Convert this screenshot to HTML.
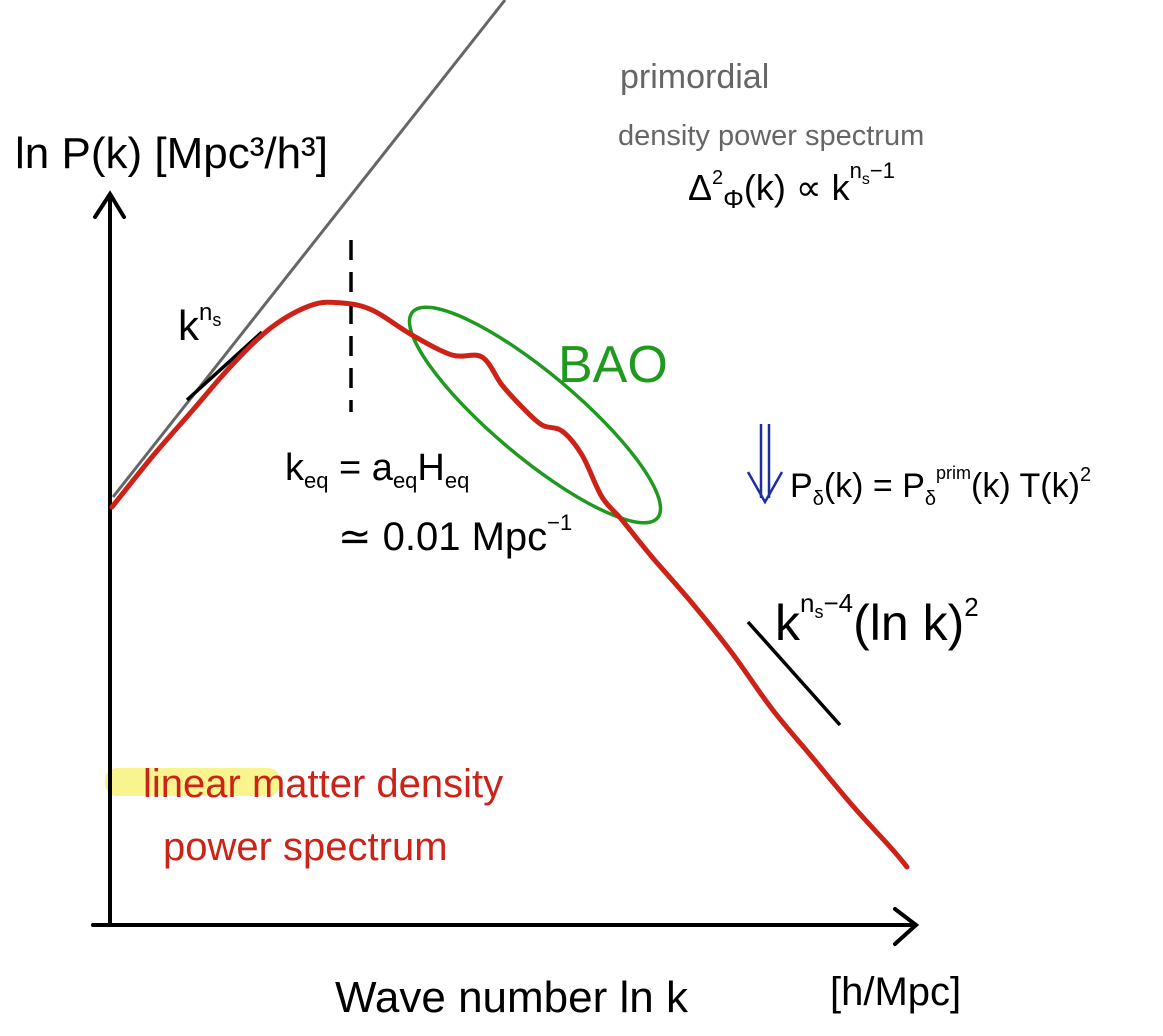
<!DOCTYPE html>
<html><head><meta charset="utf-8">
<style>
html,body{margin:0;padding:0;background:#fff;}
svg{display:block;font-family:"Liberation Sans",sans-serif;}
</style></head>
<body>
<svg width="1163" height="1036" viewBox="0 0 1163 1036">
  <rect x="105" y="768" width="175" height="28" rx="12" fill="#f7f27a" opacity="0.85"/>
  <line x1="113" y1="497" x2="505" y2="0" stroke="#666" stroke-width="3"/>
  <g stroke="#000" stroke-width="4" fill="none" stroke-linecap="round">
    <line x1="110" y1="195" x2="110" y2="925"/>
    <polyline points="95,217 110,194 124,217"/>
  </g>
  <g stroke="#000" stroke-width="4" fill="none" stroke-linecap="round">
    <line x1="93" y1="925" x2="913" y2="925"/>
    <polyline points="895,909 916,925 895,944"/>
  </g>
  <line x1="351" y1="240" x2="351" y2="412" stroke="#000" stroke-width="3.5" stroke-dasharray="20,12"/>
  <line x1="187" y1="400" x2="262" y2="332" stroke="#000" stroke-width="3.5"/>
  <line x1="748" y1="622" x2="840" y2="725" stroke="#000" stroke-width="3.5"/>
  <ellipse cx="535" cy="415" rx="160" ry="42" transform="rotate(40 535 415)" fill="none" stroke="#1f9a1f" stroke-width="3.5"/>
  <path id="curve" fill="none" stroke="#cc2218" stroke-width="5" stroke-linejoin="round" stroke-linecap="round"/>
  <g stroke="#1a2fa0" stroke-width="2.5" fill="none">
    <line x1="761" y1="424" x2="761" y2="498"/>
    <line x1="769" y1="424" x2="769" y2="498"/>
    <polyline points="748,472 765,502 782,472"/>
  </g>
  <text x="15" y="168" font-size="44">ln P(k)  [Mpc³/h³]</text>
  <text x="620" y="88" font-size="34" fill="#666">primordial</text>
  <text x="618" y="145" font-size="29" fill="#666">density power spectrum</text>
  <text x="688" y="200" font-size="36">Δ<tspan font-size="20" dy="-16">2</tspan><tspan font-size="26" dy="24">Φ</tspan><tspan dy="-8">(k) ∝ k</tspan><tspan font-size="22" dy="-22">n</tspan><tspan font-size="16" dy="6">s</tspan><tspan font-size="22" dy="-6">−1</tspan></text>
  <text x="178" y="340" font-size="42">k<tspan font-size="24" dy="-20">n</tspan><tspan font-size="18" dy="6">s</tspan></text>
  <text x="558" y="382" font-size="52" fill="#1f9a1f">BAO</text>
  <text x="285" y="480" font-size="38">k<tspan font-size="22" dy="8">eq</tspan><tspan dy="-8"> = a</tspan><tspan font-size="22" dy="8">eq</tspan><tspan dy="-8">H</tspan><tspan font-size="22" dy="8">eq</tspan></text>
  <text x="338" y="550" font-size="40">≃ 0.01 Mpc<tspan font-size="22" dy="-20">−1</tspan></text>
  <text x="790" y="497" font-size="34">P<tspan font-size="20" dy="8">δ</tspan><tspan dy="-8">(k) = P</tspan><tspan font-size="20" dy="8">δ</tspan><tspan font-size="18" dy="-26">prim</tspan><tspan dy="18">(k) T(k)</tspan><tspan font-size="20" dy="-16">2</tspan></text>
  <text x="775" y="640" font-size="50">k<tspan font-size="26" dy="-28">n</tspan><tspan font-size="18" dy="6">s</tspan><tspan font-size="26" dy="-6">−4</tspan><tspan dy="28">(ln k)</tspan><tspan font-size="26" dy="-24">2</tspan></text>
  <text x="143" y="797" font-size="40" fill="#cc2218">linear  matter density</text>
  <text x="163" y="860" font-size="40" fill="#cc2218">power  spectrum</text>
  <text x="335" y="1012" font-size="44">Wave number  ln k</text>
  <text x="830" y="1005" font-size="40">[h/Mpc]</text>
</svg>
<script>
const lnK = [0, 40, 80, 120, 160, 200, 230, 260, 300, 340, 370, 390, 410, 430, 450, 470, 490, 510, 540, 580, 620, 660, 700, 740, 780, 795];
const lnP = [418, 468, 514, 560, 598, 620, 622, 615, 590, 570, 568, 540, 518, 500, 494, 470, 428, 405, 368, 322, 272, 216, 168, 120, 76, 58];
function xs(v){ return 112 + v; }
function ys(v){ return 925 - v; }
const P = lnK.map((k, i) => [xs(k), ys(lnP[i])]);
let d = 'M' + P[0][0] + ',' + P[0][1];
for (let i = 0; i < P.length - 1; i++) {
  const p0 = P[i - 1] || P[i], p1 = P[i], p2 = P[i + 1], p3 = P[i + 2] || p2;
  const c1x = p1[0] + (p2[0] - p0[0]) / 6, c1y = p1[1] + (p2[1] - p0[1]) / 6;
  const c2x = p2[0] - (p3[0] - p1[0]) / 6, c2y = p2[1] - (p3[1] - p1[1]) / 6;
  d += ' C' + c1x.toFixed(1) + ',' + c1y.toFixed(1) + ' ' + c2x.toFixed(1) + ',' + c2y.toFixed(1) + ' ' + p2[0] + ',' + p2[1];
}
document.getElementById('curve').setAttribute('d', d);
</script>
</body></html>
